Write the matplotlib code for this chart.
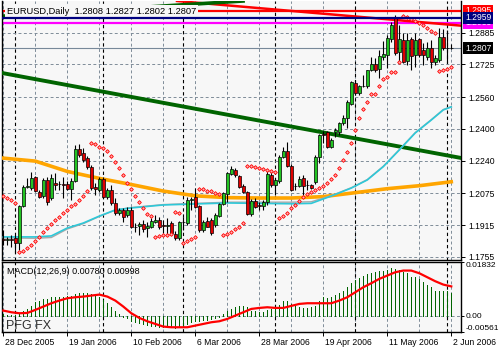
import matplotlib
matplotlib.use("Agg")
import matplotlib.pyplot as plt
import matplotlib.transforms as mtransforms
import numpy as np

plt.rcParams['font.family'] = ['Liberation Sans', 'DejaVu Sans']

# ---------------- data (EURUSD daily, 28 Dec 2005 - 2 Jun 2006) ----------------
date_bars = [0, 16, 32, 48, 64, 80, 96, 112]
date_labels = ["28 Dec 2005", "19 Jan 2006", "10 Feb 2006", "6 Mar 2006",
               "28 Mar 2006", "19 Apr 2006", "11 May 2006", "2 Jun 2006"]
month_start_bars = [3, 25, 45, 68, 88, 111]

opens = [
    1.1845, 1.1839, 1.1845, 1.1850, 1.1824, 1.2011, 1.2107, 1.2102, 1.2157, 1.2081,
    1.2061, 1.2142, 1.2051, 1.2127, 1.2122, 1.2122, 1.2122, 1.2096, 1.2137, 1.2298,
    1.2278, 1.2253, 1.2207, 1.2107, 1.2091, 1.2147, 1.2056, 1.2091, 1.2026, 1.1976,
    1.1991, 1.1965, 1.1991, 1.1905, 1.1910, 1.1920, 1.1900, 1.1905, 1.1930, 1.1940,
    1.1915, 1.1910, 1.1925, 1.1870, 1.1850, 1.1930, 1.1925, 1.2041, 1.2056, 1.2011,
    1.1890, 1.1935, 1.1940, 1.1915, 1.1960, 1.2021, 1.2071, 1.2172, 1.2192, 1.2162,
    1.2112, 1.2081, 1.1970, 1.2036, 1.2016, 1.2011, 1.2031, 1.2167, 1.2117, 1.2137,
    1.2258, 1.2288, 1.2212, 1.2112, 1.2112, 1.2152, 1.2117, 1.2117, 1.2132, 1.2258,
    1.2374, 1.2384, 1.2308, 1.2384, 1.2384, 1.2429, 1.2454, 1.2525, 1.2631, 1.2580,
    1.2616, 1.2616, 1.2696, 1.2727, 1.2701, 1.2762, 1.2772, 1.2852, 1.2963, 1.2787,
    1.2847, 1.2742, 1.2852, 1.2772, 1.2852, 1.2797, 1.2762, 1.2807, 1.2737, 1.2747,
    1.2862, 1.2808, 1.2808]
highs = [
    1.1890, 1.1855, 1.1865, 1.1865, 1.2016, 1.2117, 1.2152, 1.2182, 1.2162, 1.2091,
    1.2152, 1.2157, 1.2172, 1.2177, 1.2137, 1.2157, 1.2137, 1.2152, 1.2318, 1.2323,
    1.2303, 1.2263, 1.2217, 1.2127, 1.2157, 1.2157, 1.2101, 1.2117, 1.2051, 1.2001,
    1.2001, 1.2006, 1.2006, 1.1925, 1.1930, 1.1940, 1.1930, 1.1950, 1.1965, 1.1955,
    1.1940, 1.1950, 1.1935, 1.1885, 1.1935, 1.1955, 1.2056, 1.2056, 1.2101, 1.2016,
    1.1940, 1.1955, 1.1950, 1.1975, 1.2026, 1.2081, 1.2182, 1.2212, 1.2202, 1.2167,
    1.2122, 1.2086, 1.2046, 1.2051, 1.2031, 1.2041, 1.2192, 1.2182, 1.2152, 1.2268,
    1.2308, 1.2333, 1.2222, 1.2127, 1.2162, 1.2167, 1.2142, 1.2120, 1.2268, 1.2374,
    1.2389, 1.2389, 1.2354, 1.2404, 1.2434, 1.2470, 1.2545, 1.2641, 1.2646, 1.2621,
    1.2671, 1.2696, 1.2762, 1.2757, 1.2797, 1.2842, 1.2873, 1.2938, 1.2973, 1.2923,
    1.2883, 1.2883, 1.2862, 1.2883, 1.2857, 1.2832, 1.2837, 1.2847, 1.2772, 1.2908,
    1.2903, 1.2898, 1.2827]
lows = [
    1.1814, 1.1814, 1.1804, 1.1774, 1.1789, 1.2006, 1.2102, 1.2091, 1.2081, 1.2051,
    1.2051, 1.2016, 1.2041, 1.2091, 1.2091, 1.2051, 1.2091, 1.2041, 1.2132, 1.2258,
    1.2233, 1.2197, 1.2091, 1.2066, 1.2081, 1.2051, 1.2046, 1.2016, 1.1965, 1.1965,
    1.1930, 1.1955, 1.1900, 1.1880, 1.1865, 1.1880, 1.1855, 1.1900, 1.1925, 1.1895,
    1.1875, 1.1870, 1.1865, 1.1839, 1.1839, 1.1890, 1.1915, 1.1991, 1.2001, 1.1880,
    1.1880, 1.1905, 1.1865, 1.1905, 1.1955, 1.2016, 1.2031, 1.2167, 1.2157, 1.2101,
    1.2076, 1.1965, 1.1960, 1.2001, 1.1991, 1.1991, 1.2016, 1.2107, 1.2066, 1.2127,
    1.2253, 1.2207, 1.2086, 1.2091, 1.2107, 1.2066, 1.2091, 1.2096, 1.2122, 1.2228,
    1.2328, 1.2303, 1.2303, 1.2359, 1.2369, 1.2419, 1.2404, 1.2520, 1.2570, 1.2570,
    1.2611, 1.2606, 1.2691, 1.2686, 1.2656, 1.2747, 1.2706, 1.2837, 1.2772, 1.2737,
    1.2732, 1.2722, 1.2696, 1.2711, 1.2762, 1.2721, 1.2747, 1.2706, 1.2721, 1.2737,
    1.2797, 1.2732, 1.2802]
closes = [
    1.1839, 1.1845, 1.1839, 1.1824, 1.2011, 1.2107, 1.2112, 1.2152, 1.2086, 1.2056,
    1.2142, 1.2031, 1.2152, 1.2117, 1.2120, 1.2117, 1.2096, 1.2137, 1.2298, 1.2268,
    1.2243, 1.2207, 1.2101, 1.2096, 1.2147, 1.2056, 1.2091, 1.2026, 1.1976, 1.1991,
    1.1955, 1.1991, 1.1905, 1.1903, 1.1920, 1.1895, 1.1910, 1.1935, 1.1940, 1.1905,
    1.1910, 1.1915, 1.1875, 1.1850, 1.1930, 1.1928, 1.2041, 1.2046, 1.2006, 1.1890,
    1.1930, 1.1905, 1.1875, 1.1965, 1.2021, 1.2076, 1.2177, 1.2197, 1.2167, 1.2107,
    1.2081, 1.1970, 1.2036, 1.2006, 1.2011, 1.2031, 1.2172, 1.2117, 1.2142, 1.2258,
    1.2288, 1.2212, 1.2091, 1.2110, 1.2147, 1.2112, 1.2115, 1.2101, 1.2258, 1.2369,
    1.2369, 1.2308, 1.2343, 1.2394, 1.2429, 1.2454, 1.2535, 1.2636, 1.2580, 1.2616,
    1.2614, 1.2696, 1.2727, 1.2696, 1.2767, 1.2777, 1.2857, 1.2923, 1.2782, 1.2852,
    1.2737, 1.2847, 1.2767, 1.2847, 1.2772, 1.2772, 1.2807, 1.2737, 1.2757, 1.2862,
    1.2807, 1.2805, 1.2807]

# parabolic SAR dots
sar = [
    1.2061, 1.2051, 1.2041, 1.2026, 1.1779, 1.1784, 1.1799, 1.1814, 1.1834, 1.1855,
    1.1880, 1.1900, 1.1920, 1.1940, 1.1955, 1.1976, 1.1991, 1.2011, 1.2021, 1.2041,
    1.2061, 1.2086, 1.2328, 1.2323, 1.2308, 1.2303, 1.2288, 1.2263, 1.2233, 1.2202,
    1.2167, 1.2127, 1.2096, 1.2061, 1.2031, 1.2001, 1.1970, 1.1960, 1.1855, 1.1860,
    1.1865, 1.1865, 1.1870, 1.1981, 1.1976, 1.1824, 1.1834, 1.1845, 1.1855, 1.2096,
    1.2096, 1.2086, 1.2086, 1.2076, 1.2071, 1.1865, 1.1870, 1.1880, 1.1895, 1.1905,
    1.1925, 1.2212, 1.2212, 1.2207, 1.2202, 1.2197, 1.2192, 1.2187, 1.2182, 1.1950,
    1.1960, 1.1976, 1.2001, 1.2016, 1.2036, 1.2056, 1.2071, 1.2081, 1.2091, 1.2101,
    1.2112, 1.2127, 1.2147, 1.2167, 1.2202, 1.2243, 1.2283, 1.2328, 1.2394, 1.2454,
    1.2500, 1.2535, 1.2575, 1.2575, 1.2616, 1.2651, 1.2661, 1.2686, 1.2686, 1.2737,
    1.2968, 1.2963, 1.2953, 1.2943, 1.2933, 1.2923, 1.2908, 1.2893, 1.2883, 1.2691,
    1.2696, 1.2701, 1.2711]

# moving averages, read at sample bars
ma_slow_bars = [0, 8, 16, 24, 32, 40, 48, 56, 64, 72, 80, 88, 96, 104, 112]
ma_slow = [1.2252, 1.2237, 1.2185, 1.2150, 1.2119, 1.2086, 1.2062, 1.2053,
           1.2051, 1.2051, 1.2058, 1.2078, 1.2098, 1.2113, 1.2133]
ma_fast_bars = [0, 8, 12, 16, 20, 24, 28, 32, 40, 48, 56, 64, 72, 77, 82, 87,
                91, 95, 99, 103, 107, 110, 112]
ma_fast = [1.1855, 1.1855, 1.1860, 1.1900, 1.1925, 1.1960, 1.1991, 1.2001, 1.2016,
           1.2021, 1.2026, 1.2024, 1.2022, 1.2024, 1.2061, 1.2101, 1.2142, 1.2209,
           1.2293, 1.2379, 1.2444, 1.2495, 1.2510]
ma_fast2 = [1.1850, 1.1848, 1.1852, 1.1895, 1.1922, 1.1958, 1.1990, 1.2003, 1.2018,
            1.2024, 1.2030, 1.2030, 1.2030, 1.2032, 1.2063, 1.2103, 1.2144, 1.2211,
            1.2295, 1.2381, 1.2446, 1.2497, 1.2512]

# drawn objects: trend lines (bar, price) and horizontal levels
green_trend = [(0, 1.2680), (112, 1.2262)]
green_top = [(0, 1.2968), (56, 1.3039)]
red_trend = [(44, 1.3043), (112, 1.2924)]
level_red = 1.2995
level_navy = 1.2959
level_magenta = 1.2935
last_price = 1.2807

price_ticks = [1.2885, 1.2725, 1.2560, 1.2400, 1.2240, 1.2075, 1.1915, 1.1755]

# MACD(12,26,9)
macd_main = [
    0.00057, 0.00034, 0.00023, 0.00011, 0.00057, 0.00148, 0.00228, 0.00342, 0.00456, 0.00490,
    0.00570, 0.00570, 0.00627, 0.00627, 0.00650, 0.00650, 0.00684, 0.00684, 0.00741, 0.00775,
    0.00787, 0.00764, 0.00741, 0.00684, 0.00627, 0.00536, 0.00422, 0.00285, 0.00148, 0.00057,
    -0.00034, -0.00080, -0.00171, -0.00228, -0.00262, -0.00285, -0.00319, -0.00342, -0.00365, -0.00376,
    -0.00399, -0.00399, -0.00399, -0.00410, -0.00376, -0.00342, -0.00285, -0.00228, -0.00194, -0.00171,
    -0.00148, -0.00148, -0.00114, -0.00080, -0.00034, 0.00057, 0.00148, 0.00228, 0.00285, 0.00331,
    0.00342, 0.00308, 0.00171, 0.00148, 0.00114, 0.00114, 0.00194, 0.00228, 0.00262, 0.00376,
    0.00490, 0.00490, 0.00399, 0.00331, 0.00308, 0.00262, 0.00262, 0.00285, 0.00342, 0.00513,
    0.00627, 0.00604, 0.00650, 0.00718, 0.00764, 0.00855, 0.00969, 0.01106, 0.01220, 0.01288,
    0.01357, 0.01425, 0.01448, 0.01482, 0.01516, 0.01539, 0.01562, 0.01630, 0.01607, 0.01562,
    0.01493, 0.01448, 0.01334, 0.01311, 0.01254, 0.01140, 0.01060, 0.00969, 0.00855, 0.00855,
    0.00832, 0.00855, 0.00780]
signal_bars = list(range(0, 113, 2))
macd_signal = [
    0.00171, 0.00114, 0.00080, 0.00091, 0.00194, 0.00308, 0.00422, 0.00513, 0.00593, 0.00627,
    0.00650, 0.00684, 0.00718, 0.00650, 0.00513, 0.00308, 0.00080, -0.00080, -0.00194, -0.00285,
    -0.00376, -0.00399, -0.00399, -0.00399, -0.00342, -0.00285, -0.00228, -0.00194, -0.00114, 0.0,
    0.00114, 0.00228, 0.00262, 0.00285, 0.00262, 0.00262, 0.00331, 0.00399, 0.00422, 0.00422,
    0.00422, 0.00422, 0.00513, 0.00627, 0.00798, 0.00969, 0.01106, 0.01254, 0.01368, 0.01482,
    0.01539, 0.01539, 0.01448, 0.01311, 0.01174, 0.01060, 0.00998]
macd_min, macd_max = -0.00561, 0.01832

# ---------------- figure ----------------
W, H = 500, 350
BG = '#F7F7F7'
GRID = '#7F8C99'


def px_box(l, t, r, b):
    return [l / W, 1 - b / H, (r - l) / W, (b - t) / H]


fig = plt.figure(figsize=(W / 100, H / 100), dpi=100)
ax = fig.add_axes(px_box(2, 1, 461, 260), facecolor=BG)
ax2 = fig.add_axes(px_box(2, 262, 461, 332), facecolor=BG, sharex=ax)

x = np.arange(len(closes))
o = np.array(opens)
c = np.array(closes)
bull = c >= o

ax.set_xlim(-0.33, 114.43)
ax.set_ylim(1.17386, 1.30440)
ax2.set_ylim(macd_min, macd_max)

# grid + month separators on both panels
for a in (ax, ax2):
    for b in range(0, 113, 8):
        a.axvline(b, color=GRID, lw=0.7, ls=(0, (3, 2.5)), zorder=1)
    for b in month_start_bars:
        a.axvline(b, color='black', lw=0.8, ls=(0, (3, 2.5)), zorder=1)
for p in price_ticks:
    ax.axhline(p, color=GRID, lw=0.7, ls=(0, (3, 2.5)), zorder=1)
ax2.axhline(0, color=GRID, lw=0.7, ls=(0, (3, 2.5)), zorder=1)

# levels and trend lines
ax.axhline(level_red, color='red', lw=1.6, zorder=2)
ax.axhline(level_magenta, color='#FF00FF', lw=1.6, zorder=2)
ax.axhline(last_price, color='#778899', lw=0.8, zorder=2)
ax.axline(*red_trend, color='red', lw=1.8, zorder=2)
ax.axline(*green_top, color='#006400', lw=2.6, zorder=2)
ax.axline(*green_trend, color='#006400', lw=2.8, zorder=3)

# moving averages
ax.plot(ma_slow_bars, ma_slow, color='#FFA500', lw=2.6, zorder=3)
ax.plot(ma_fast_bars, ma_fast2, color='#A8A8A8', lw=1.0, zorder=3)
ax.plot(ma_fast_bars, ma_fast, color='#2EC8D8', lw=1.2, zorder=3)

# candles
ax.vlines(x, lows, highs, color='black', lw=0.8, zorder=4)
ax.bar(x[bull], (c - o)[bull], bottom=o[bull], width=0.62, color='#22C322',
       edgecolor='black', lw=0.5, zorder=5)
ax.bar(x[~bull], (c - o)[~bull], bottom=o[~bull], width=0.62, color='#E00000',
       edgecolor='black', lw=0.5, zorder=5)

# parabolic SAR
ax.plot(x, sar, ls='none', marker='D', ms=1.9, mfc='#FFB0B0', mec='red', mew=0.6, zorder=6)

# title with background covering lines
ax.text(0.011, 0.951, "EURUSD,Daily  1.2808 1.2827 1.2802 1.2807", transform=ax.transAxes,
        fontsize=6.7, va='baseline', ha='left', color='black', zorder=7,
        bbox=dict(facecolor=BG, edgecolor='none', pad=1.2))
ax.axhline(level_navy, color='#000080', lw=1.6, zorder=8)

# price axis
ax.yaxis.tick_right()
ax.set_yticks(price_ticks)
ax.set_yticklabels([f"{p:.4f}" for p in price_ticks])
ax.tick_params(axis='y', length=3, width=0.7, pad=2, labelsize=6.2)
ax.tick_params(axis='x', bottom=False, labelbottom=False)

blend = mtransforms.blended_transform_factory(ax.transAxes, ax.transData)
for val, fc in [(level_magenta, '#FF00FF'), (level_red, 'red'), (level_navy, '#000080'),
                (last_price, 'black')]:
    ax.text(1.0085, val, f"{val:.4f}", transform=blend, fontsize=6.2, color='white',
            ha='left', va='center', clip_on=False, zorder=9,
            bbox=dict(facecolor=fc, edgecolor='none', pad=1.1))

for s in ('left', 'right', 'bottom'):
    ax.spines[s].set_linewidth(1.0)
ax.spines['top'].set_visible(False)

# MACD panel
ax2.vlines(x, 0, macd_main, color='#006400', lw=0.72, antialiased=False, zorder=3)
ax2.plot(signal_bars, macd_signal, color='red', lw=1.6, zorder=4)
ax2.yaxis.tick_right()
ax2.set_yticks([macd_max, 0.0, macd_min])
ax2.set_yticklabels(["0.01832", "0.00", "-0.00561"])
ax2.tick_params(axis='y', length=2, width=0.7, pad=1, labelsize=6.0)
ylabs = ax2.get_yticklabels()
ylabs[0].set_va('top')
ylabs[2].set_va('bottom')
ax2.text(0.011, 0.86, "MACD(12,26,9) 0.00780 0.00998", transform=ax2.transAxes,
         fontsize=6.5, va='center', ha='left', zorder=7)
ax2.text(0.008, 0.09, "PFG FX", transform=ax2.transAxes, fontsize=9, va='center',
         ha='left', color='#303030', zorder=7)

ax2.set_xticks(date_bars)
ax2.set_xticklabels(date_labels)
ax2.tick_params(axis='x', length=3, width=0.7, pad=1.5, labelsize=6.2)
shift = mtransforms.ScaledTranslation(2 / 100, 0, fig.dpi_scale_trans)
for lbl in ax2.get_xticklabels():
    lbl.set_ha('left')
    lbl.set_transform(lbl.get_transform() + shift)
for s in ('left', 'right', 'bottom', 'top'):
    ax2.spines[s].set_linewidth(1.0)

fig.savefig("out.png", dpi=100, facecolor='white')
